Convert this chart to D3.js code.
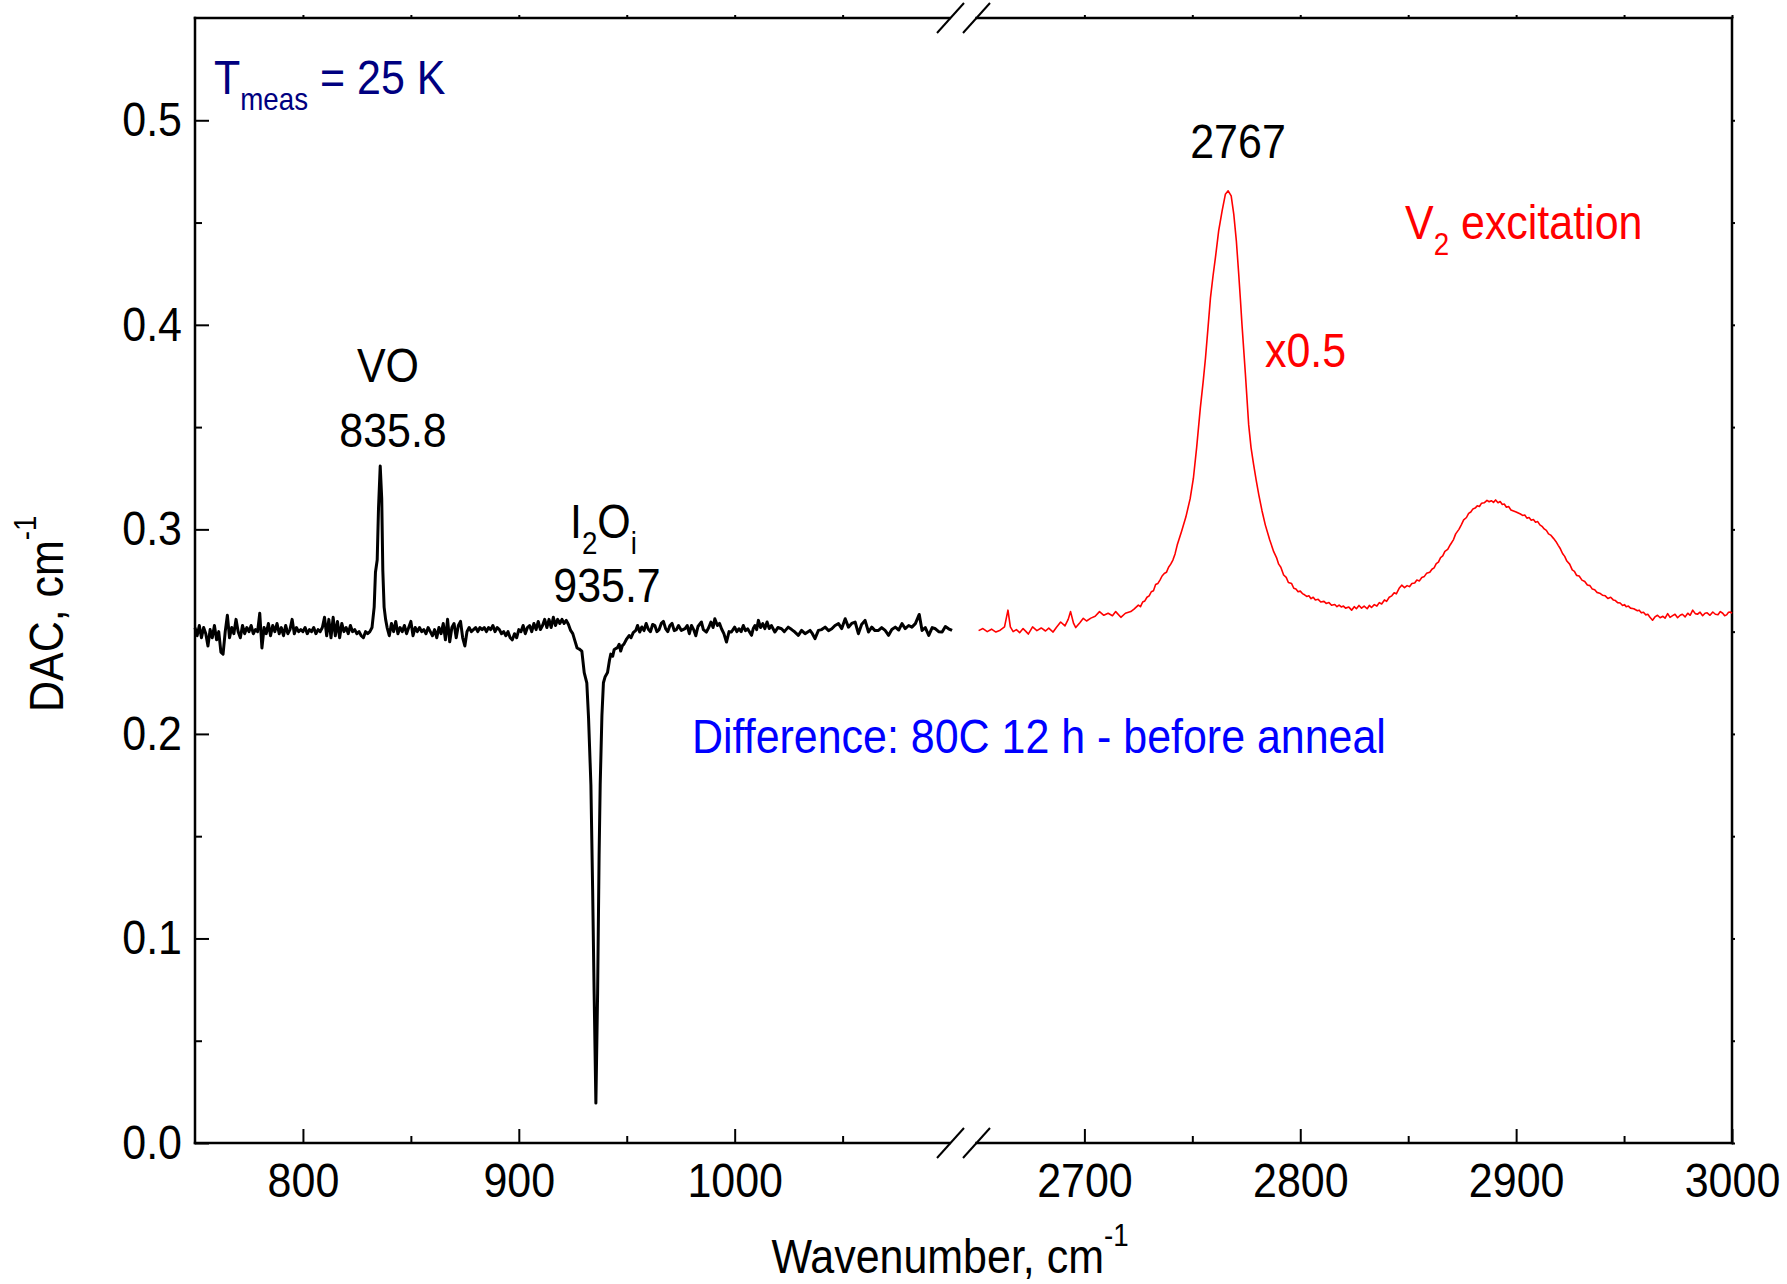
<!DOCTYPE html>
<html>
<head>
<meta charset="utf-8">
<script src="https://cdn.jsdelivr.net/npm/d3@7"></script>
<style>
  body { margin: 0; background: #fff; }
  svg text { font-family: "Liberation Sans", Arial, sans-serif; }
</style>
</head>
<body>
<div id="chart"></div>
<script>
// black difference spectrum, 750 - 1100 cm-1 [wavenumber, DAC]
const lowSpectrum = [
  [750,0.252],[751,0.248],[752,0.253],[753,0.247],[754,0.252],[755,0.249],[756,0.243],[757,0.251],
  [758,0.247],[759,0.253],[760,0.246],[761,0.250],[762,0.240],[763,0.239],[764,0.250],[765,0.258],
  [766,0.247],[767,0.252],[768,0.249],[769,0.256],[770,0.250],[771,0.247],[772,0.253],[773,0.249],
  [774,0.252],[775,0.250],[776,0.253],[777,0.249],[778,0.251],[779,0.250],[780,0.259],[781,0.242],
  [782,0.252],[783,0.249],[784,0.254],[785,0.248],[786,0.253],[787,0.250],[788,0.254],[789,0.249],
  [790,0.252],[791,0.248],[792,0.253],[793,0.249],[794,0.251],[795,0.256],[796,0.249],[797,0.252],
  [798,0.250],[799,0.251],[800,0.250],[801,0.252],[802,0.249],[803,0.251],[804,0.250],[805,0.252],
  [806,0.249],[807,0.251],[808,0.250],[809,0.252],[810,0.257],[811,0.248],[812,0.256],[813,0.247],
  [814,0.257],[815,0.248],[816,0.255],[817,0.247],[818,0.254],[819,0.250],[820,0.252],[821,0.249],
  [822,0.253],[823,0.250],[824,0.251],[825,0.249],[826,0.250],[827,0.248],[828,0.247],[829,0.250],
  [830,0.249],[831,0.250],[832,0.252],[833,0.262],[833.6,0.279],[834.4,0.285],[835,0.310],[835.8,0.331],
  [836.5,0.315],[837,0.280],[837.6,0.262],[838.3,0.256],[839,0.252],[840,0.248],[841,0.254],[842,0.250],
  [843,0.255],[844,0.249],[845,0.252],[846,0.250],[847,0.253],[848,0.249],[849,0.252],[850,0.255],
  [851,0.248],[852,0.252],[853,0.250],[854,0.252],[855,0.250],[856,0.251],[857,0.249],[858,0.252],
  [859,0.250],[860,0.248],[861,0.251],[862,0.247],[863,0.252],[864,0.249],[865,0.254],[866,0.246],
  [867,0.256],[868,0.245],[869,0.252],[870,0.254],[871,0.247],[872,0.253],[873,0.255],[874,0.247],
  [875,0.243],[876,0.250],[877,0.252],[878,0.250],[879,0.251],[880,0.252],[881,0.250],[882,0.252],
  [883,0.251],[884,0.252],[885,0.250],[886,0.252],[887,0.251],[888,0.253],[889,0.250],[890,0.252],
  [891,0.251],[892,0.249],[893,0.250],[894,0.248],[895,0.250],[896,0.247],[897,0.246],[898,0.249],
  [899,0.247],[900,0.251],[901,0.250],[902,0.253],[903,0.249],[904,0.252],[905,0.253],[906,0.250],
  [907,0.254],[908,0.251],[909,0.255],[910,0.251],[911,0.253],[912,0.256],[913,0.252],[914,0.256],
  [915,0.252],[916,0.257],[917,0.253],[918,0.256],[919,0.254],[920,0.256],[921,0.254],[922,0.2555],
  [923,0.2535],[924,0.2506],[925,0.249],[926,0.2455],[927,0.242],[928,0.2415],[929.2,0.2405],
  [930.3,0.230],[931.5,0.225],[932.3,0.208],[933.4,0.175],[934.2,0.124],[934.9,0.073],[935.7,0.0195],
  [936.5,0.073],[937.2,0.141],[937.7,0.175],[938.5,0.209],[939.2,0.225],[940,0.228],[941.1,0.230],
  [942,0.236],[942.6,0.239],[943.5,0.238],[944.2,0.2413],[945.7,0.2422],[946.5,0.2438],[947.2,0.2405],
  [948,0.2432],[948.7,0.2439],[950,0.2465],[951.1,0.2481],[952,0.2470],[953,0.2495],[954.2,0.2506],
  [955,0.2530],[956,0.2498],[957,0.2523],[958,0.2505],[959,0.254],[960,0.2512],[961,0.250],[962,0.2535],
  [963,0.253],[964,0.2500],[965,0.251],[966,0.2540],[967,0.255],[968,0.2515],[969,0.250],[970,0.2530],
  [971,0.254],[972,0.2505],[973,0.251],[974,0.2530],[975.3,0.2506],[977,0.2515],[978,0.2530],[979,0.249],
  [980,0.253],[981,0.2510],[982,0.248],[983,0.2525],[984.6,0.2547],[985.5,0.2510],[986.9,0.2498],
  [988,0.2520],[989,0.2547],[990,0.2520],[990.8,0.2563],[992,0.253],[993,0.2540],[993.9,0.2514],
  [995,0.2490],[996.2,0.2449],[997.4,0.2500],[998.5,0.2498],[1000,0.2522],[1001,0.2500],[1002,0.2514],
  [1003,0.2500],[1004,0.2530],[1005,0.2505],[1006,0.2514],[1007.8,0.2482],[1008.6,0.2515],[1009.4,0.2530],
  [1010.2,0.2510],[1011,0.2555],[1012,0.2520],[1013,0.2539],[1014,0.2515],[1015,0.2547],[1016,0.2515],
  [1017,0.2530],[1018.6,0.2498],[1020,0.2520],[1021.7,0.2514],[1023,0.2500],[1024.8,0.2522],[1026.4,0.2510],
  [1027.9,0.2498],[1029.5,0.2482],[1031,0.2506],[1032.6,0.2490],[1034.9,0.2506],[1036,0.2490],
  [1037.2,0.2466],[1038.8,0.2506],[1040.3,0.2510],[1041.9,0.2522],[1043.5,0.2505],[1045,0.2514],
  [1046.5,0.2530],[1048.1,0.2539],[1049.6,0.2515],[1051.2,0.2563],[1052.7,0.2522],[1054.2,0.2540],
  [1055.8,0.2547],[1057.3,0.2490],[1058.8,0.2535],[1060.4,0.2555],[1062,0.2498],[1063.5,0.2522],
  [1065,0.2505],[1066.6,0.2506],[1068.1,0.2520],[1069.7,0.2506],[1071.3,0.2482],[1072.8,0.2510],
  [1074.4,0.2522],[1076,0.2508],[1077.5,0.2539],[1079,0.2515],[1080.6,0.2530],[1082.1,0.2522],
  [1083.7,0.2539],[1085.5,0.2584],[1086.8,0.2506],[1088.3,0.2520],[1089.9,0.2482],[1091.5,0.2520],
  [1093,0.2514],[1094.5,0.2500],[1096.1,0.2498],[1097.6,0.2525],[1099.1,0.2514],[1100.7,0.2506]
];

// red V2 excitation spectrum (x0.5), 2651 - 3000 cm-1
const highSpectrum = [
  [2651,0.2505],[2653,0.2515],[2655,0.2500],[2657,0.2512],[2659,0.2498],[2661,0.2507],[2663,0.2523],
  [2664.6,0.2605],[2665.7,0.2523],[2667,0.2500],[2668.5,0.2510],[2670,0.2495],[2671.6,0.2515],[2673,0.2500],
  [2674,0.2488],[2676,0.2523],[2678,0.2505],[2680,0.2518],[2682,0.2503],[2683.5,0.2517],[2685.5,0.2498],
  [2687,0.2520],[2689,0.2547],[2691,0.2528],[2692.5,0.2560],[2693.6,0.2598],[2695,0.2540],[2696,0.2520],
  [2698,0.2545],[2699.5,0.2565],[2701,0.2552],[2703,0.2566],[2705,0.2575],[2707,0.2598],[2709,0.2580],
  [2711,0.2590],[2713,0.2578],[2714.5,0.2598],[2716.9,0.2570],[2719,0.2590],[2721.5,0.2598],[2723,0.2610],
  [2725,0.2630],[2726,0.2622],[2727,0.2645],[2728,0.2650],[2729,0.2668],[2730,0.2675],[2731,0.2695],
  [2732,0.2700],[2733,0.2730],[2734,0.2735],[2735,0.2752],[2736,0.2772],[2737,0.2784],[2738,0.2790],
  [2739,0.2815],[2740,0.2830],[2741,0.2850],[2742,0.2880],[2743,0.2923],[2745,0.2990],[2747,0.3060],
  [2749,0.3150],[2750.5,0.3250],[2752,0.3400],[2753.7,0.3593],[2755,0.3720],[2756.1,0.3838],
  [2757.3,0.3990],[2758.4,0.4132],[2759.6,0.4240],[2760.7,0.4328],[2762.2,0.4459],[2763.8,0.4557],
  [2765.3,0.4638],[2766.6,0.4655],[2768,0.4630],[2769.2,0.4541],[2770.4,0.4410],[2771.5,0.4247],
  [2772.3,0.4120],[2773,0.4002],[2774.6,0.3757],[2776.1,0.3512],[2777.2,0.3400],[2778.4,0.3316],
  [2779.6,0.3240],[2780.8,0.3169],[2782.3,0.3090],[2783.8,0.3022],[2785.8,0.2950],[2787.7,0.2891],
  [2789,0.2862],[2790,0.2830],[2791,0.2815],[2792.3,0.2777],[2793.5,0.2765],[2794.5,0.2740],
  [2796,0.2735],[2797,0.2712],[2798,0.2708],[2799,0.2695],[2800,0.2698],[2801,0.2686],[2802,0.2680],
  [2803,0.2672],[2804,0.2675],[2805,0.2661],[2806,0.2668],[2807,0.2655],[2808.3,0.2658],[2809.5,0.2645],
  [2811,0.2648],[2812,0.2638],[2813.3,0.2642],[2814.5,0.2629],[2816,0.2633],[2817,0.2622],[2818,0.2630],
  [2819,0.2621],[2820,0.2625],[2821,0.2615],[2822.5,0.2620],[2823.8,0.2605],[2825,0.2622],[2826,0.2612],
  [2827.2,0.2628],[2828.4,0.2615],[2829.6,0.2625],[2831,0.2612],[2832,0.2628],[2833,0.2618],[2834.3,0.2632],
  [2835.5,0.2625],[2836.6,0.2642],[2837.7,0.2635],[2839,0.2655],[2840,0.2648],[2841.2,0.2668],
  [2842.4,0.2675],[2843.5,0.2690],[2844.5,0.2685],[2845.8,0.2712],[2847,0.2727],[2848.3,0.2715],
  [2849.5,0.2725],[2850.6,0.2720],[2851.7,0.2735],[2853,0.2738],[2854,0.2752],[2855.2,0.2748],
  [2856.3,0.2765],[2857.5,0.2770],[2858.5,0.2785],[2860,0.2790],[2861,0.2805],[2862,0.2812],[2863,0.2832],
  [2864,0.2840],[2865,0.2862],[2866,0.2870],[2867,0.2892],[2868.3,0.2902],[2869.5,0.2925],[2871,0.2950],
  [2872,0.2978],[2873.5,0.3000],[2874.6,0.3022],[2875.7,0.3046],[2877,0.3058],[2878,0.3078],[2879,0.3085],
  [2880,0.3100],[2881,0.3104],[2882,0.3115],[2883,0.3112],[2884,0.3128],[2885.2,0.3130],[2886.5,0.3142],
  [2887.5,0.3135],[2888.5,0.3140],[2889.5,0.3132],[2890.5,0.3144],[2891.6,0.3130],[2892.6,0.3136],
  [2893.6,0.3122],[2894.5,0.3124],[2895.5,0.3108],[2896.5,0.3112],[2897.6,0.3095],[2898.8,0.3090],
  [2900,0.3085],[2901,0.3080],[2902,0.3075],[2903,0.3068],[2904,0.3070],[2905,0.3055],[2906,0.3058],
  [2907,0.3045],[2908,0.3048],[2909,0.3035],[2910,0.3038],[2911,0.3022],[2912,0.3015],[2913,0.3002],
  [2914,0.2995],[2915,0.2978],[2916,0.2972],[2917.3,0.2956],[2918.5,0.2940],[2919.5,0.2922],[2920.5,0.2905],
  [2921.5,0.2882],[2922.5,0.2868],[2923.5,0.2845],[2924.8,0.2830],[2926,0.2802],[2927,0.2795],[2928,0.2775],
  [2929.2,0.2772],[2930.5,0.2752],[2931.8,0.2745],[2933,0.2728],[2934.2,0.2725],[2935.3,0.2708],
  [2936.4,0.2705],[2937.4,0.2692],[2938.7,0.2688],[2940,0.2678],[2941.3,0.2675],[2942.5,0.2662],
  [2943.8,0.2668],[2945,0.2655],[2946,0.2652],[2947,0.2642],[2948.2,0.2640],[2949.3,0.2628],[2950.2,0.2632],
  [2951,0.2622],[2952,0.2625],[2953,0.2615],[2954.5,0.2612],[2956.2,0.2602],[2957,0.2605],[2958,0.2592],
  [2959,0.2595],[2960,0.2582],[2961,0.2585],[2962,0.2570],[2963.2,0.2556],[2964.3,0.2572],[2965.5,0.2580],
  [2966.7,0.2568],[2968,0.2575],[2969,0.2566],[2970.2,0.2588],[2971.3,0.2570],[2972.5,0.2578],
  [2973.6,0.2585],[2974.8,0.2568],[2976,0.2580],[2977,0.2585],[2978.3,0.2572],[2979.5,0.2590],
  [2980.6,0.2580],[2981.8,0.2605],[2983,0.2588],[2984,0.2585],[2985.2,0.2595],[2986.4,0.2578],
  [2987.5,0.2590],[2988.5,0.2592],[2989.8,0.2580],[2991.1,0.2596],[2992.3,0.2585],[2993.5,0.2583],
  [2994.6,0.2598],[2995.7,0.2590],[2996.6,0.2578],[2997.5,0.2582],[2998.4,0.2595],[2999.2,0.2596],
  [3000,0.2590]
];

// axis ranges and ticks
const lowRange = [750, 1106];
const highRange = [2644, 3000];
const lowMajor = [800, 900, 1000];
const lowMinor = [850, 950, 1050];
const highMajor = [2700, 2800, 2900, 3000];
const highMinor = [2750, 2850, 2950];
const yRange = [0, 0.55];
const yMajor = [0.0, 0.1, 0.2, 0.3, 0.4, 0.5];
const yMinor = [0.05, 0.15, 0.25, 0.35, 0.45];

var W = 1787, H = 1284;
// plot box (note: "top" is taken by window.top, so use pTop etc.)
var pLeft = 195, pRight = 1732, pTop = 18, pBottom = 1143;
var brk = (pLeft + pRight) / 2;   // position of the axis break
var fs = 48, subFs = 31;
var sx = 0.895;   // the original text is a bit narrow, squeeze it

var svg = d3.select("#chart").append("svg")
  .attr("width", W).attr("height", H);

var xLow = d3.scaleLinear().domain(lowRange).range([pLeft, brk]);
var xHigh = d3.scaleLinear().domain(highRange).range([brk, pRight]);
var y = d3.scaleLinear().domain(yRange).range([pBottom, pTop]);

function styleAxis(g) {
  g.select(".domain").remove();
  g.selectAll("line").attr("stroke", "#000").attr("stroke-width", 2);
  g.selectAll("text").attr("font-size", fs).attr("fill", "#000")
    .style("font-family", '"Liberation Sans", Arial, sans-serif');
}

// bottom axis, both halves, major ticks with labels + minor ticks
[[xLow, lowMajor, lowMinor], [xHigh, highMajor, highMinor]].forEach(function(p) {
  svg.append("g").attr("transform", "translate(0," + pBottom + ")")
    .call(d3.axisBottom(p[0]).tickValues(p[1]).tickSize(-14).tickPadding(20).tickFormat(d3.format("d")))
    .call(styleAxis)
    .selectAll("text").attr("transform", "scale(" + sx + ",1)");
  svg.append("g").attr("transform", "translate(0," + pBottom + ")")
    .call(d3.axisBottom(p[0]).tickValues(p[2]).tickSize(-7).tickFormat(""))
    .call(styleAxis);
  // small outward ticks on the top edge
  svg.append("g").attr("transform", "translate(0," + pTop + ")")
    .call(d3.axisTop(p[0]).tickValues(p[1].concat(p[2])).tickSize(3).tickFormat(""))
    .call(styleAxis);
});

// left axis
svg.append("g").attr("transform", "translate(" + pLeft + ",0)")
  .call(d3.axisLeft(y).tickValues(yMajor).tickSize(-14).tickFormat(d3.format(".1f")))
  .call(styleAxis)
  .selectAll("text").attr("x", 0).attr("transform", "translate(-13,0) scale(" + sx + ",1)");
svg.append("g").attr("transform", "translate(" + pLeft + ",0)")
  .call(d3.axisLeft(y).tickValues(yMinor).tickSize(-7).tickFormat(""))
  .call(styleAxis);
svg.append("g").attr("transform", "translate(" + pRight + ",0)")
  .call(d3.axisRight(y).tickValues(yMajor.concat(yMinor)).tickSize(3).tickFormat(""))
  .call(styleAxis);

// frame, with a gap at the break
var gapL = brk - 14, gapR = brk + 13;
var frame = [
  [pLeft, pTop, pLeft, pBottom], [pRight, pTop, pRight, pBottom],
  [pLeft, pBottom, gapL, pBottom], [gapR, pBottom, pRight, pBottom],
  [pLeft, pTop, gapL, pTop], [gapR, pTop, pRight, pTop]
];
svg.selectAll(".frame").data(frame).enter().append("line")
  .attr("class", "frame")
  .attr("x1", d => d[0]).attr("y1", d => d[1])
  .attr("x2", d => d[2]).attr("y2", d => d[3])
  .attr("stroke", "#000").attr("stroke-width", 2.5)
  .attr("stroke-linecap", "square");

// break marks "//"
[pTop, pBottom].forEach(function(yy) {
  [brk - 13, brk + 13].forEach(function(cx) {
    svg.append("line")
      .attr("x1", cx - 13.5).attr("y1", yy + 15)
      .attr("x2", cx + 13.5).attr("y2", yy - 15)
      .attr("stroke", "#000").attr("stroke-width", 2);
  });
});

// spectra
var lineLow = d3.line().x(d => xLow(d[0])).y(d => y(d[1]));
var lineHigh = d3.line().x(d => xHigh(d[0])).y(d => y(d[1]));

svg.append("path").datum(lowSpectrum)
  .attr("d", lineLow).attr("fill", "none")
  .attr("stroke", "#000").attr("stroke-width", 3).attr("stroke-linejoin", "round");

svg.append("path").datum(highSpectrum)
  .attr("d", lineHigh).attr("fill", "none")
  .attr("stroke", "#ff0000").attr("stroke-width", 1.6).attr("stroke-linejoin", "round");

// text helper: parts are [string, "sub" | "sup" | ""]
function addText(x, yy, parts, color, anchor, rot) {
  var t = svg.append("text")
    .attr("transform", "translate(" + x + "," + yy + ")" + (rot ? " rotate(-90)" : "") + " scale(" + sx + ",1)")
    .attr("font-size", fs).attr("fill", color || "#000")
    .attr("text-anchor", anchor || "start");
  var shift = 0;
  parts.forEach(function(p) {
    var want = p[1] == "sub" ? 16 : (p[1] == "sup" ? -27 : 0);
    t.append("tspan").attr("dy", want - shift)
      .attr("font-size", p[1] ? subFs : fs).text(p[0]);
    shift = want;
  });
  return t;
}

// axis titles
addText(950, 1273, [["Wavenumber, cm", ""], ["-1", "sup"]], "#000", "middle");
addText(63, 712, [["DAC, cm", ""], ["-1", "sup"]], "#000", "start", true);

// annotations
addText(214, 94, [["T", ""], ["meas", "sub"], [" = 25 K", ""]], "#000080");
addText(388, 382, [["VO", ""]], "#000", "middle");
addText(393, 447, [["835.8", ""]], "#000", "middle");
addText(570, 538, [["I", ""], ["2", "sub"], ["O", ""], ["i", "sub"]]);
addText(607, 602, [["935.7", ""]], "#000", "middle");
addText(1238, 158, [["2767", ""]], "#000", "middle");
addText(1405, 239, [["V", ""], ["2", "sub"], [" excitation", ""]], "#ff0000");
addText(1265, 367, [["x0.5", ""]], "#ff0000");
addText(692, 753, [["Difference: 80C 12 h - before anneal", ""]], "#0000ff");
</script>
</body>
</html>
